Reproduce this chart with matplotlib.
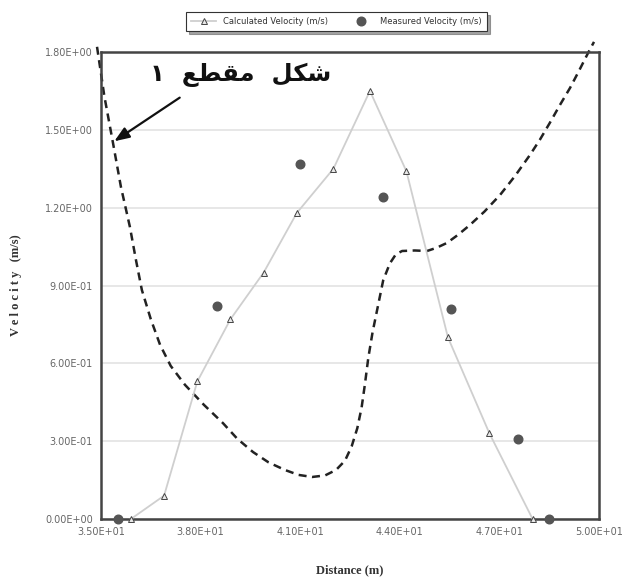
import numpy as np
import matplotlib.pyplot as plt
from matplotlib.ticker import FuncFormatter

# calculated velocity (triangles, light line)
calc_x=[35.9,36.9,37.9,38.9,39.9,40.9,42.0,43.1,44.2,45.45,46.7,48.0]
calc_v=[0.0,0.09,0.53,0.77,0.95,1.18,1.35,1.65,1.34,0.70,0.33,0.0]
# measured velocity (dark dots)
meas_x=[35.5,38.5,41.0,43.5,45.55,47.55,48.5]
meas_v=[0.0,0.82,1.37,1.24,0.81,0.31,0.0]
# cross section outline (dashed)
sec_x=[34.88,35.1,35.36,35.6,35.87,36.05,36.23,36.5,36.78,37.1,37.53,38.1,38.67,39.1,39.58,
       40.05,40.54,40.95,41.36,41.75,42.08,42.35,42.55,42.72,42.85,42.95,43.05,43.18,43.34,
       43.5,43.70,43.88,44.07,44.45,44.82,45.1,45.42,45.75,46.11,46.55,47.02,47.47,47.92,
       48.22,48.52,48.82,49.13,49.4,49.67,49.85]
sec_y=[1.82,1.63,1.45,1.28,1.126,1.0,0.883,0.77,0.671,0.59,0.517,0.44,0.370,0.31,0.258,
       0.218,0.189,0.170,0.162,0.168,0.189,0.225,0.28,0.35,0.43,0.52,0.62,0.72,0.82,
       0.92,0.985,1.02,1.033,1.035,1.033,1.045,1.064,1.095,1.133,1.185,1.249,1.322,1.403,
       1.462,1.527,1.595,1.662,1.728,1.796,1.839]

xticks=[35,38,41,44,47,50]
yticks=[0.0,0.3,0.6,0.9,1.2,1.5,1.8]

fig=plt.figure(figsize=(6.22,5.81),dpi=100)
ax=fig.add_axes([0.1624,0.1067,0.8006,0.8038])

ax.plot(calc_x,calc_v,color='#cfcfcf',lw=1.3,marker='^',ms=5,
        mfc='#e8e8e8',mec='#444444',mew=0.7,label='Calculated Velocity (m/s)',
        clip_on=False,zorder=3)
ax.plot(meas_x,meas_v,ls='none',marker='o',ms=6.2,color='#555555',
        label='Measured Velocity (m/s)',clip_on=False,zorder=4)
sec,=ax.plot(sec_x,sec_y,color='#222222',lw=1.8,clip_on=False,zorder=2)
sec.set_dashes((3.2,2.2))

ax.annotate('',xy=(35.33,1.45),xytext=(37.44,1.63),
            arrowprops=dict(arrowstyle='-|>,head_length=0.9,head_width=0.35',
                            color='#111111',lw=1.6))
# arabic label, shaped glyphs in visual order
label_ar='\u0661  \uFECA\uFEC4\uFED8\uFEE3  \uFEDE\uFEDC\uFEB7'
ax.text(39.2,1.71,label_ar,fontsize=17.5,fontweight='bold',color='#111111',
        ha='center',va='center',family=['DejaVu Sans','Noto Sans'])

ax.set_xlim(35,50)
ax.set_ylim(0,1.8)
ax.set_xticks(xticks)
ax.set_yticks(yticks)
ax.xaxis.set_major_formatter(FuncFormatter(lambda v,p:'%.2E'%v))
ax.yaxis.set_major_formatter(FuncFormatter(lambda v,p:'%.2E'%v))
ax.tick_params(length=0,labelsize=7,colors='#666666',pad=6)
ax.grid(axis='y',color='#e3e3e3',lw=1.2)
ax.set_axisbelow(True)
for s in ax.spines.values():
    s.set_color('#444444')
    s.set_linewidth(1.8)

ax.set_xlabel('Distance (m)',family='Liberation Serif',fontweight='bold',
              fontsize=9,color='#333333')
ax.set_ylabel('V e l o c i t y   (m/s)',family='Liberation Serif',fontweight='bold',
              fontsize=9,color='#333333')
ax.xaxis.set_label_coords(0.5,-0.098)
ax.yaxis.set_label_coords(-0.159,0.5)

leg=fig.legend(loc='center',bbox_to_anchor=(0.541,0.963),ncol=2,fontsize=6,
               frameon=True,fancybox=False,shadow=True,edgecolor='#333333',
               columnspacing=2.5,handlelength=3,borderpad=0.6)
leg.get_frame().set_linewidth(0.8)
for t in leg.get_texts():
    t.set_color('#333333')

plt.savefig('out.png',dpi=100)
